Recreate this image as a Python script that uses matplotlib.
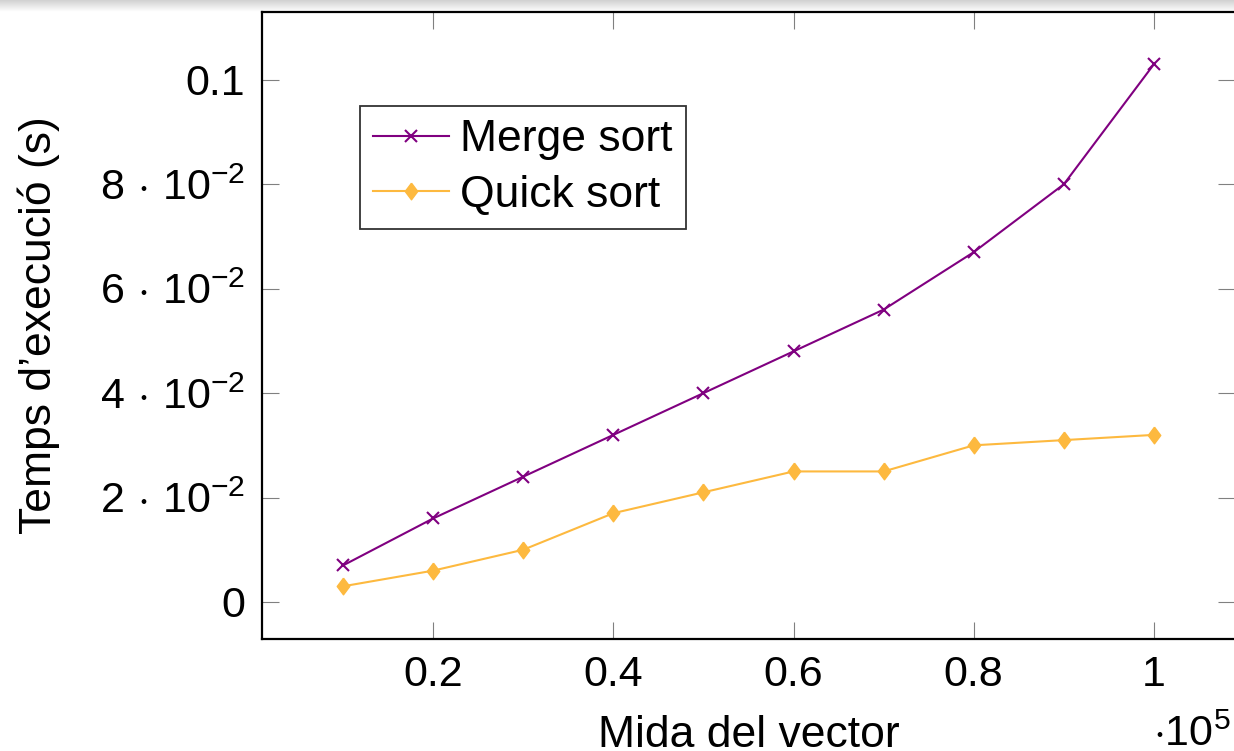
import numpy as np
import matplotlib
matplotlib.use("Agg")
from matplotlib import pyplot as plt

plt.rcParams["font.family"] = ["Liberation Sans", "DejaVu Sans"]
plt.rcParams["mathtext.fontset"] = "custom"
plt.rcParams["mathtext.rm"] = "Liberation Sans"
plt.rcParams["mathtext.it"] = "Liberation Sans"
plt.rcParams["mathtext.default"] = "rm"

# vector size (x 10^5) and execution time (s)
sizes = [0.1, 0.2, 0.3, 0.4, 0.5, 0.6, 0.7, 0.8, 0.9, 1.0]
merge_sort = [0.007, 0.016, 0.024, 0.032, 0.040, 0.048, 0.056, 0.067, 0.080, 0.103]
quick_sort = [0.003, 0.006, 0.010, 0.017, 0.021, 0.025, 0.025, 0.030, 0.031, 0.032]

xticks = [0.2, 0.4, 0.6, 0.8, 1.0]
xticklabels = ["0.2", "0.4", "0.6", "0.8", "1"]
yticks = [0, 0.02, 0.04, 0.06, 0.08, 0.1]
yticklabels = ["0", r"$2\,\cdot\,10^{-2}$", r"$4\,\cdot\,10^{-2}$", r"$6\,\cdot\,10^{-2}$",
               r"$8\,\cdot\,10^{-2}$", "0.1"]

W, H = 1234, 751
fig = plt.figure(figsize=(W / 100, H / 100), dpi=100)

# grey screenshot band at the top
band = fig.add_axes([0, 1 - 12 / H, 1, 12 / H])
band.imshow(np.linspace(0.82, 1.0, 20).reshape(-1, 1), cmap="gray", aspect="auto",
            vmin=0, vmax=1)
band.axis("off")

ax = fig.add_axes([262 / W, (H - 638.5) / H, (1235 - 262) / W, (638.5 - 12) / H])

# pgfplots style diamond, a bit taller than wide
diamond = [(0, 1), (0.75, 0), (0, -1), (-0.75, 0), (0, 1)]

ax.plot(sizes, merge_sort, color="#800080", lw=1.5, marker="x", ms=9, mew=1.5,
        label="Merge sort")
ax.plot(sizes, quick_sort, color="#FDB93F", lw=1.5, marker=diamond, ms=12,
        label="Quick sort")

ax.set_xlim(0.01, 1.09)
ax.set_ylim(-0.007, 0.113)
ax.set_xticks(xticks)
ax.set_xticklabels(xticklabels)
ax.set_yticks(yticks)
ax.set_yticklabels(yticklabels)

ax.tick_params(direction="in", length=12, width=0.8, color="#808080",
               labelsize=31, top=True, right=True, pad=12)
for s in ax.spines.values():
    s.set_linewidth(1.6)

ax.set_xlabel("Mida del vector", fontsize=32, labelpad=14)
ax.set_ylabel("Temps d\u2019execuci\u00f3 (s)", fontsize=32, labelpad=29)

fig.text(1231 / W, (H - 735) / H, r"$\cdot10^{5}$", fontsize=31, ha="right",
         va="center")

leg = ax.legend(loc="upper left", bbox_to_anchor=((360 - 262) / (1235 - 262), (638.5 - 106) / (638.5 - 12)),
                fontsize=32, frameon=True, fancybox=False, edgecolor="black",
                handlelength=1.7, handletextpad=0.25, borderpad=0.3, labelspacing=0.32,
                borderaxespad=0)
leg.get_frame().set_linewidth(1.3)

plt.savefig("out.png", dpi=100)
